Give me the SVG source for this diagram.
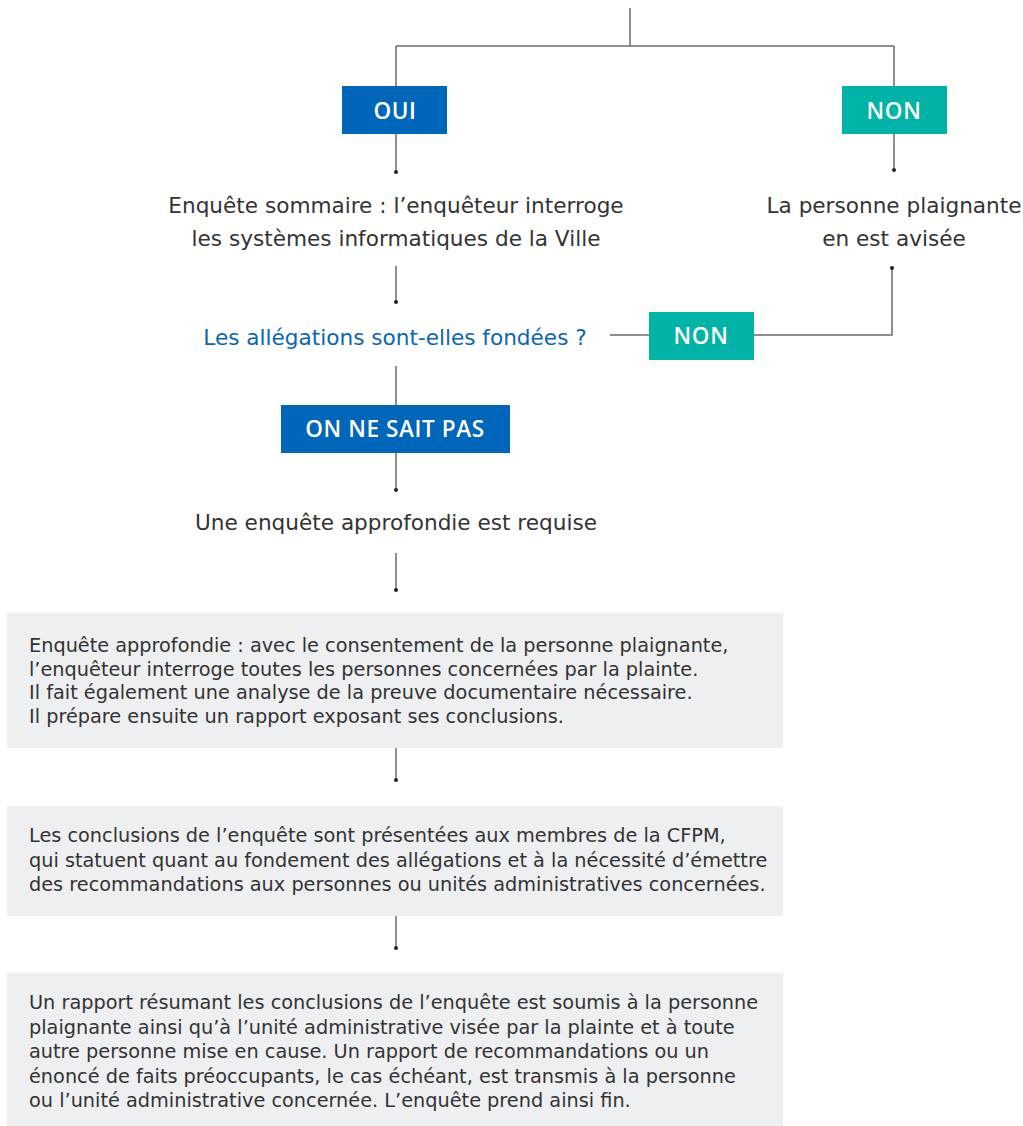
<svg xmlns="http://www.w3.org/2000/svg" width="1023" height="1126" viewBox="0 0 1023 1126">
<style>
.t{font-family:"DejaVu Sans","Open Sans","Liberation Sans",sans-serif;fill:#333;font-size:19.3px}
.m{font-size:21.6px}
.c{text-anchor:middle}
.q{fill:#0a66b5}
.lb{font-family:"Open Sans","Noto Sans","Liberation Sans",sans-serif;fill:#fff;font-size:22.5px;font-weight:600;text-anchor:middle;letter-spacing:0.6px}
.blue{fill:#0066b9}
.teal{fill:#00b3a6}
.gbox{fill:#eeeff1}
.ln{fill:none;stroke:#6b6b6b;stroke-width:1.5}
.dot{fill:#222}
</style>
<g id="connectors">
<path class="ln" d="M630,8 V46 M396,46 H894 M396,46 V86 M894,46 V86"/>
<path class="ln" d="M396,134 V172"/><circle class="dot" cx="396" cy="172" r="2"/>
<path class="ln" d="M894,134 V170"/><circle class="dot" cx="894" cy="170" r="2"/>
<path class="ln" d="M396,266 V302"/><circle class="dot" cx="396" cy="302" r="2"/>
<path class="ln" d="M892,268 V335 H754 M649,335 H610"/><circle class="dot" cx="892" cy="268" r="2"/>
<path class="ln" d="M396,366 V405 M396,453 V490"/><circle class="dot" cx="396" cy="490" r="2"/>
<path class="ln" d="M396,553 V590"/><circle class="dot" cx="396" cy="590" r="2"/>
<path class="ln" d="M396,748 V780"/><circle class="dot" cx="396" cy="780" r="2"/>
<path class="ln" d="M396,916 V948"/><circle class="dot" cx="396" cy="948" r="2"/>
</g>
<g id="oui1"><rect class="blue" x="342" y="86" width="105" height="48"/><text class="lb" x="395" y="119">OUI</text></g>
<g id="non1"><rect class="teal" x="842" y="86" width="105" height="48"/><text class="lb" x="894" y="119">NON</text></g>
<g id="sommaire"><text class="t m c" x="396" y="213">Enquête sommaire : l’enquêteur interroge</text><text class="t m c" x="396" y="246">les systèmes informatiques de la Ville</text></g>
<g id="avisee"><text class="t m c" x="894" y="213">La personne plaignante</text><text class="t m c" x="894" y="246">en est avisée</text></g>
<g id="question"><text class="t m c q" x="395" y="345">Les allégations sont-elles fondées ?</text></g>
<g id="non2"><rect class="teal" x="649" y="312" width="105" height="48"/><text class="lb" x="701" y="344">NON</text></g>
<g id="onnesaitpas"><rect class="blue" x="281" y="405" width="229" height="48"/><text class="lb" x="395" y="437">ON NE SAIT PAS</text></g>
<g id="requise"><text class="t m c" x="396" y="530">Une enquête approfondie est requise</text></g>
<g id="box1"><rect class="gbox" x="7" y="613" width="776" height="135"/>
<text class="t" x="29"><tspan x="29" y="652">Enquête approfondie : avec le consentement de la personne plaignante,</tspan><tspan x="29" y="676">l’enquêteur interroge toutes les personnes concernées par la plainte.</tspan><tspan x="29" y="699">Il fait également une analyse de la preuve documentaire nécessaire.</tspan><tspan x="29" y="723">Il prépare ensuite un rapport exposant ses conclusions.</tspan></text></g>
<g id="box2"><rect class="gbox" x="7" y="806" width="776" height="110"/>
<text class="t" x="29"><tspan x="29" y="842">Les conclusions de l’enquête sont présentées aux membres de la CFPM,</tspan><tspan x="29" y="867">qui statuent quant au fondement des allégations et à la nécessité d’émettre</tspan><tspan x="29" y="891">des recommandations aux personnes ou unités administratives concernées.</tspan></text></g>
<g id="box3"><rect class="gbox" x="7" y="973" width="776" height="155"/>
<text class="t" x="29"><tspan x="29" y="1009">Un rapport résumant les conclusions de l’enquête est soumis à la personne</tspan><tspan x="29" y="1034">plaignante ainsi qu’à l’unité administrative visée par la plainte et à toute</tspan><tspan x="29" y="1058">autre personne mise en cause. Un rapport de recommandations ou un</tspan><tspan x="29" y="1083">énoncé de faits préoccupants, le cas échéant, est transmis à la personne</tspan><tspan x="29" y="1107">ou l’unité administrative concernée. L’enquête prend ainsi fin.</tspan></text></g>
</svg>
